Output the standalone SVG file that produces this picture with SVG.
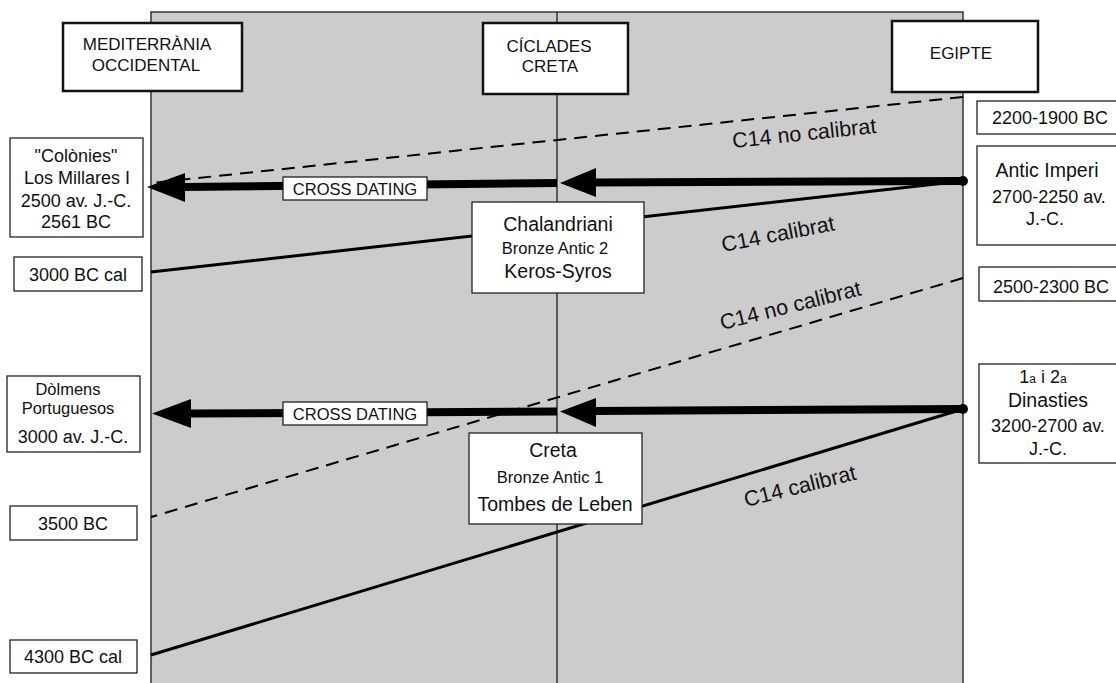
<svg xmlns="http://www.w3.org/2000/svg" width="1116" height="683" viewBox="0 0 1116 683">
<style>
text{font-family:"Liberation Sans",Arial,Helvetica,sans-serif;fill:#111;text-anchor:middle}
.hdr{fill:#fff;stroke:#111;stroke-width:2.5}
.box{fill:#fff;stroke:#222;stroke-width:1.3}
.h{font-size:17px}
.d{font-size:18px}
.m{font-size:19.5px}
.s{font-size:16.5px}
.c14{font-size:21.5px;text-anchor:start}
.cd{font-size:16.5px}
.thin{stroke:#000;stroke-width:3;fill:none}
.dash{stroke:#000;stroke-width:2;fill:none;stroke-dasharray:13 8}
.thick{stroke:#000;stroke-width:8;fill:none}
.head{fill:#000}
</style>
<rect width="1116" height="683" fill="#fff"/>
<g id="panel">
<rect x="151" y="12" width="812" height="680" fill="#cccccc" stroke="#333" stroke-width="1.5"/>
<line x1="557" y1="12" x2="557" y2="683" stroke="#333" stroke-width="1.5"/>
</g>
<g id="connectors">
<line class="dash" x1="963" y1="97" x2="151" y2="183"/>
<line class="dash" x1="963" y1="278" x2="151" y2="517"/>
<line class="thin" x1="963" y1="181" x2="151" y2="272"/>
<line class="thin" x1="963" y1="409" x2="151" y2="655"/>
<line class="thick" x1="963" y1="181" x2="594" y2="182.5"/>
<polygon class="head" points="560,183 596,168 596,197"/>
<line class="thick" x1="557" y1="183" x2="183" y2="187"/>
<polygon class="head" points="147,187 185,173 185,202"/>
<circle cx="963" cy="181" r="5"/>
<line class="thick" x1="963" y1="409" x2="594" y2="411"/>
<polygon class="head" points="560,411.5 596,398 596,427"/>
<line class="thick" x1="557" y1="411.5" x2="189" y2="413.5"/>
<polygon class="head" points="152,413.5 191,399 191,428"/>
<circle cx="963" cy="409" r="5"/>
<text class="c14" transform="translate(733,148) rotate(-6)">C14 no calibrat</text>
<text class="c14" transform="translate(723,252) rotate(-11)">C14 calibrat</text>
<text class="c14" transform="translate(722,330) rotate(-14)">C14 no calibrat</text>
<text class="c14" transform="translate(746,507) rotate(-14)">C14 calibrat</text>
</g>
<g id="h-med"><rect class="hdr" x="63" y="23" width="179" height="68"/><text class="h" x="147" y="50">MEDITERRÀNIA</text><text class="h" x="146" y="71">OCCIDENTAL</text></g>
<g id="h-cic"><rect class="hdr" x="483" y="23" width="145" height="71"/><text class="h" x="549" y="52">CÍCLADES</text><text class="h" x="550" y="72">CRETA</text></g>
<g id="h-egi"><rect class="hdr" x="892" y="21" width="146" height="71"/><text class="h" x="961" y="59">EGIPTE</text></g>
<g id="cd1"><rect class="box" x="283" y="177" width="144" height="23"/><text class="cd" x="355" y="195">CROSS DATING</text></g>
<g id="cd2"><rect class="box" x="283" y="402" width="144" height="23"/><text class="cd" x="355" y="420">CROSS DATING</text></g>
<g id="colonies"><rect class="box" x="10" y="138" width="133" height="99"/>
<text class="d" x="76" y="162">"Colònies"</text><text class="d" x="77" y="184">Los Millares I</text><text class="d" x="76" y="207">2500 av. J.-C.</text><text class="d" x="76" y="228">2561 BC</text></g>
<g id="bc3000cal"><rect class="box" x="14" y="257" width="128" height="34"/><text class="d" x="78" y="281">3000 BC cal</text></g>
<g id="dolmens"><rect class="box" x="7" y="376" width="133" height="76"/>
<text class="s" x="68" y="395">Dòlmens</text><text class="s" x="68" y="414">Portuguesos</text><text class="d" x="73" y="443">3000 av. J.-C.</text></g>
<g id="bc3500"><rect class="box" x="10" y="506" width="127" height="34"/><text class="d" x="73" y="530">3500 BC</text></g>
<g id="bc4300"><rect class="box" x="10" y="640" width="127" height="33"/><text class="d" x="73" y="663">4300 BC cal</text></g>
<g id="chalandriani"><rect class="box" x="472" y="202" width="172" height="91"/>
<text class="m" x="558" y="231">Chalandriani</text><text class="s" x="555" y="254">Bronze Antic 2</text><text class="m" x="558" y="278">Keros-Syros</text></g>
<g id="creta"><rect class="box" x="469" y="433" width="173" height="91"/>
<text class="m" x="553" y="457">Creta</text><text class="s" x="550" y="483">Bronze Antic 1</text><text class="m" x="555" y="511">Tombes de Leben</text></g>
<g id="bc2200"><rect class="box" x="977" y="101" width="150" height="33"/><text class="d" x="1050" y="124">2200-1900 BC</text></g>
<g id="antic"><rect class="box" x="977" y="146" width="150" height="99"/>
<text class="m" x="1047" y="177">Antic Imperi</text><text class="d" x="1049" y="203">2700-2250 av.</text><text class="d" x="1045" y="225">J.-C.</text></g>
<g id="bc2500"><rect class="box" x="979" y="267" width="150" height="34"/><text class="d" x="1051" y="293">2500-2300 BC</text></g>
<g id="dinasties"><rect class="box" x="979" y="364" width="150" height="99"/>
<text class="d" x="1043" y="383">1<tspan font-size="12">a</tspan> i 2<tspan font-size="12">a</tspan></text><text class="m" x="1048" y="407">Dinasties</text><text class="d" x="1048" y="432">3200-2700 av.</text><text class="d" x="1048" y="455">J.-C.</text></g>
</svg>
